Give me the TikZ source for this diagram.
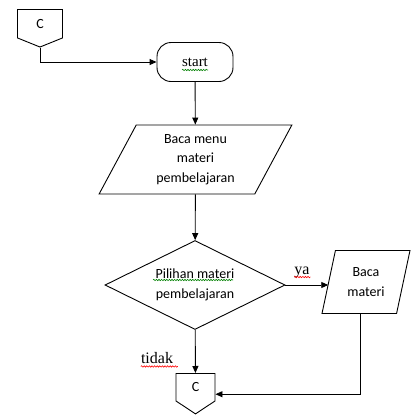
\documentclass[tikz,border=0pt]{standalone}
\usepackage{fontspec}
\setmainfont{Liberation Serif}
\newfontfamily\calibri{Carlito}
\usetikzlibrary{shapes.geometric,shapes.symbols,arrows.meta,calc,decorations.pathmorphing}

\tikzset{
  flow/.style={draw, line width=0.9pt, align=center, inner sep=0pt,
    font=\calibri\fontsize{14}{19.5}\selectfont},
  terminal/.style={flow, rectangle, rounded corners=14pt, minimum width=76pt,
    minimum height=39pt, font=\fontsize{15}{18}\selectfont},
  io/.style={flow, trapezium, trapezium left angle=#1, trapezium right angle=180-#1,
    trapezium stretches=true},
  decision/.style={flow, diamond, aspect=2, minimum width=180pt, minimum height=89pt},
  offpage/.style={flow, signal, signal to=south, minimum height=30pt},
  lbl/.style={font=\fontsize{16}{18}\selectfont, inner sep=0pt},
  arr/.style={line width=0.9pt, -{Triangle[length=7pt,width=6pt]}},
  spell/.style={draw=#1, line width=0.6pt, decorate,
    decoration={snake, amplitude=0.7pt, segment length=2.6pt}}
}

\begin{document}
\begin{tikzpicture}[x=1pt,y=-1pt]
  \useasboundingbox (0,0) rectangle (414,416);
  \node[offpage, minimum width=45pt, signal pointer angle=136, anchor=north] (cTop) at (40,9) {C};
  \node[terminal] (start) at (195,62) {start};
  \node[io=64, minimum width=193pt, minimum height=69pt] (menu) at (195.5,159.5)
    {Baca menu\\materi\\pembelajaran};
  \node[decision] (pilih) at (195,285) {Pilihan materi\\pembelajaran};
  \node[io=74, minimum width=88pt, minimum height=63pt] (materi) at (366,282)
    {Baca\\materi};
  \node[offpage, minimum width=39pt, signal pointer angle=113, anchor=north] (cBot) at (195.5,373) {C};
  \node[lbl] (ya) at (302,272) {ya};
  \node[lbl] (tidak) at (157,358) {tidak};

  \draw[arr] (cTop.south) |- (start.west);
  \draw[arr] (start) -- (menu);
  \draw[arr] (menu) -- (pilih);
  \draw[arr] (pilih.east) -- (pilih.east -| materi.west);
  \draw[arr] (pilih) -- (cBot);
  \draw[arr] ($(materi.bottom left corner)!0.52!(materi.bottom right corner)$)
    |- ($(cBot.east)+(0,7)$);

  % spelling marks
  \draw[spell=green!50!black] ($(start.center)+(-13,8)$) -- ($(start.center)+(13,8)$);
  \draw[spell=green!50!black] ($(pilih.center)+(-42,-5)$) -- ($(pilih.center)+(38,-5)$);
  \draw[spell=red] (ya.base west) ++(0,3) -- ++(16,0);
  \draw[spell=red] (tidak.base west) ++(0,3) -- ++(37,0);
\end{tikzpicture}
\end{document}
